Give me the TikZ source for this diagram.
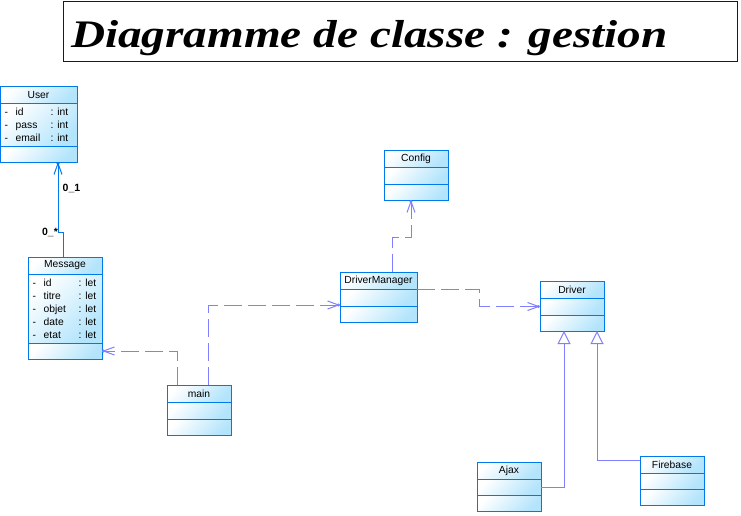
\documentclass[tikz,border=0pt]{standalone}
\usepackage{fontspec}
\setmainfont{Liberation Sans}
\newfontfamily\titlefont{Liberation Serif}
\usepackage{tikz}
\usetikzlibrary{arrows.meta}
\usetikzlibrary{calc,positioning}
\definecolor{umlblue}{RGB}{0,122,235}
\definecolor{umlfill}{RGB}{178,228,252}
\definecolor{linkblue}{RGB}{128,128,255}
\definecolor{titleblue}{RGB}{0,0,230}

\newcommand{\attrrow}[2]{\makebox[11pt][l]{-}\makebox[35pt][l]{#1}: #2}
% name, x, y, width, title, height of attributes, attributes
\newcommand{\umlclass}[7]{%
  \node[class head,minimum width=#4] (#1) at (#2,#3) {#5};
  \node[class part,minimum width=#4,minimum height=#6,below=0pt of #1,
        label={[attr text]west:{#7}}] (#1-attr) {};
  \node[class part,minimum width=#4,minimum height=16pt,below=0pt of #1-attr] (#1-op) {};
}

\begin{document}
\begin{tikzpicture}[x=1pt,y=-1pt,font=\fontsize{10.3}{13}\selectfont]
      \tikzstyle{class head}=[rectangle,draw=umlblue,line width=1pt,top color=white,bottom color=umlfill,
                              shading angle=45,minimum height=17pt,inner sep=0pt,outer sep=0pt,anchor=north west]
      \tikzstyle{class part}=[class head,anchor=north]
      \tikzstyle{attr text}=[anchor=west,xshift=4.5pt,align=left,inner sep=0pt]
      \tikzstyle{link tip}=[-{Straight Barb[length=11pt,width=8pt,sep=-3pt]Circle[length=3pt]}]
      \tikzstyle{dependency}=[draw=linkblue,line width=1pt,dash pattern=on 18pt off 6pt,link tip]
      \tikzstyle{association}=[draw=umlblue,line width=1pt,link tip]
      \tikzstyle{generalization}=[draw=linkblue,line width=1pt,-{Triangle[open,length=13pt,width=13pt,fill=white]}]
      \tikzstyle{multiplicity}=[font=\fontsize{10.5}{10.5}\selectfont\bfseries,inner sep=0pt]
      \useasboundingbox (0,0) rectangle (741,516);

      \node(title)[draw=titleblue,anchor=north west,minimum width=674pt,minimum height=60pt,inner sep=0pt] at (63,1) {};
      \node(title-text)[anchor=base west,inner sep=0pt,font=\titlefont\bfseries\itshape\fontsize{39}{39}\selectfont]
          at (71,48) {\scalebox{1.21}[1]{Diagramme de classe : gestion}};

      \umlclass{User}{0}{87}{77}{User}{42pt}{\attrrow{id}{int}\\\attrrow{pass}{int}\\\attrrow{email}{int}}
      \umlclass{Message}{28}{257}{74}{Message}{69pt}{\attrrow{id}{let}\\\attrrow{titre}{let}\\\attrrow{objet}{let}\\\attrrow{date}{let}\\\attrrow{etat}{let}}
      \umlclass{Config}{384}{150}{64}{Config}{17pt}{}
      \umlclass{DriverManager}{340}{272}{77}{DriverManager}{17pt}{}
      \umlclass{Driver}{540}{281}{64}{Driver}{17pt}{}
      \umlclass{main}{167}{385}{64}{main}{17pt}{}
      \umlclass{Ajax}{477}{462}{64}{Ajax}{16pt}{}
      \umlclass{Firebase}{640}{456}{64}{Firebase}{16pt}{}

      % associations and dependencies
      \draw[association] ($(Message.north)+(-2,0)$) -- ++(0,-25) -| ($(User-op.south)+(19.5,0)$);
      \node(mult-user)[multiplicity] at (71.5,188) {0\_1};
      \node(mult-msg)[multiplicity] at (50,232) {0\_*};
      \draw[dependency] ($(DriverManager.north)+(13.5,0)$) -- ++(0,-35) -| ($(Config-op.south)+(-5,0)$);
      \draw[dependency] (DriverManager.south east) -- ++(62,0) |- (Driver-attr.west);
      \draw[dependency] ($(main.north)+(-22,0)$) |- (Message-op.east);
      \draw[dependency] ($(main.north)+(9,0)$) |- ($(DriverManager-attr.south west)+(0,-1)$);

      % inheritance
      \draw[generalization] (Ajax-attr.east) -| ($(Driver-op.south)+(-8,0)$);
      \draw[generalization] ($(Firebase.west)+(0,-4)$) -| ($(Driver-op.south)+(25,0)$);
\end{tikzpicture}
\end{document}
